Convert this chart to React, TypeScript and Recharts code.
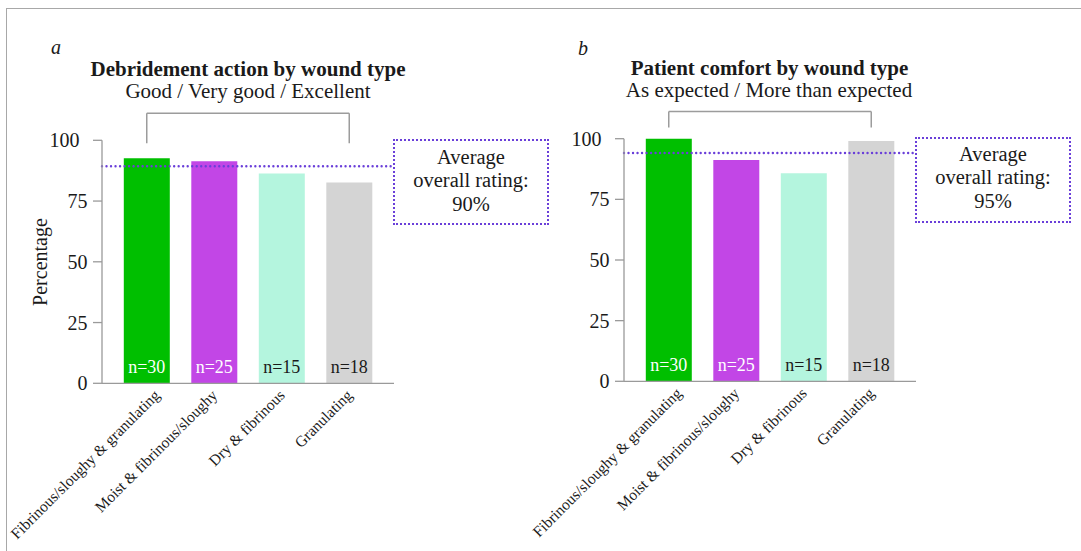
import React from "react";
import { BarChart, Bar, XAxis, YAxis, Cell, LabelList, ReferenceLine } from "recharts";

const FONT = "'Liberation Serif', 'Times New Roman', serif";
const INK = "#1a1a1a";
const AXIS = "#9a9a9a";
const DOT = "#6a3fd9";

const categories = [
  "Fibrinous/sloughy & granulating",
  "Moist & fibrinous/sloughy",
  "Dry & fibrinous",
  "Granulating",
];
const sampleSizes = [30, 25, 15, 18];
const debridementValues = [92.6, 91.4, 86.3, 82.6];
const comfortValues = [100, 91.2, 85.8, 99.1];
const debridementAverage = 89.3;
const comfortAverage = 94.1;
const barColors = ["#00bf00", "#c246e6", "#b4f5de", "#d4d4d4"];
const yTicks = [0, 25, 50, 75, 100];

const YTick = ({ x, y, payload }: any) => (
  <text
    x={x - (payload.value === 100 ? 11.5 : 3.5)}
    y={y}
    dy={7}
    textAnchor="end"
    fontSize={20}
    fontFamily={FONT}
    fill={INK}
  >
    {payload.value}
  </text>
);

const XTick = ({ x, y, payload, index }: any) => {
  const tx = x + (index === 0 ? 14 : 4);
  const ty = y + 13;
  return (
    <text
      x={tx}
      y={ty}
      textAnchor="end"
      fontSize={15.5}
      fontFamily={FONT}
      fill={INK}
      transform={`rotate(-45 ${tx} ${ty})`}
    >
      {payload.value}
    </text>
  );
};

const NLabel = ({ x, y, width, height, value, index }: any) => (
  <text
    x={x + width / 2}
    y={y + height - 10}
    textAnchor="middle"
    fontSize={18}
    fontFamily={FONT}
    fill={index < 2 ? "#ffffff" : INK}
  >
    {`n=${value}`}
  </text>
);

type PanelProps = {
  values: number[];
  average: number;
  bracketTop: number;
  bracketBottom: number;
  left: number;
  width: number;
  margin: { top: number; right: number; bottom: number; left: number };
};

function Panel({ values, average, bracketTop, bracketBottom, left, width, margin }: PanelProps) {
  const data = categories.map((name, i) => ({ name, value: values[i], n: sampleSizes[i] }));
  const first = categories[0];
  const last = categories[categories.length - 1];
  const bracket = { stroke: "#9c9c9c", strokeWidth: 1.5, ifOverflow: "visible" as const };
  return (
    <div style={{ position: "absolute", left, top: 0 }}>
      <BarChart width={width} height={551} data={data} margin={margin} barCategoryGap="16%">
        <XAxis
          dataKey="name"
          interval={0}
          height={160}
          padding={{ left: 11, right: 11 }}
          tick={<XTick />}
          tickLine={false}
          tickSize={0}
          tickMargin={0}
          axisLine={{ stroke: AXIS, strokeWidth: 1.3 }}
        />
        <YAxis
          width={60}
          domain={[0, 100]}
          ticks={yTicks}
          tick={<YTick />}
          tickSize={9}
          tickLine={{ stroke: AXIS, strokeWidth: 1.3 }}
          axisLine={{ stroke: AXIS, strokeWidth: 1.3 }}
        />
        <Bar dataKey="value" isAnimationActive={false}>
          {data.map((d, i) => (
            <Cell key={d.name} fill={barColors[i]} />
          ))}
          <LabelList dataKey="n" content={<NLabel />} />
        </Bar>
        <ReferenceLine
          y={average}
          stroke={DOT}
          strokeWidth={2.4}
          strokeDasharray="0.01 4.5"
          strokeLinecap="round"
        />
        <ReferenceLine {...bracket} segment={[{ x: first, y: bracketBottom }, { x: first, y: bracketTop }]} />
        <ReferenceLine {...bracket} segment={[{ x: first, y: bracketTop }, { x: last, y: bracketTop }]} />
        <ReferenceLine {...bracket} segment={[{ x: last, y: bracketTop }, { x: last, y: bracketBottom }]} />
      </BarChart>
    </div>
  );
}

const boxStyle: React.CSSProperties = {
  position: "absolute",
  boxSizing: "border-box",
  width: 156,
  height: 86,
  border: `2.5px dotted ${DOT}`,
};

export default function App() {
  return (
    <div
      style={{
        position: "absolute",
        left: 0,
        top: 0,
        width: 1081,
        height: 551,
        overflow: "hidden",
        background: "#fff",
        fontFamily: FONT,
      }}
    >
      <div
        style={{
          position: "absolute",
          left: 6,
          top: 8,
          width: 2000,
          height: 2000,
          border: "1px solid #a8a8a8",
        }}
      />
      <Panel
        values={debridementValues}
        average={debridementAverage}
        bracketTop={111.1}
        bracketBottom={98.8}
        left={0}
        width={540}
        margin={{ top: 140.3, right: 146, bottom: 7.7, left: 42 }}
      />
      <Panel
        values={comfortValues}
        average={comfortAverage}
        bracketTop={111.2}
        bracketBottom={104.6}
        left={460}
        width={621}
        margin={{ top: 138.7, right: 165, bottom: 9.7, left: 104 }}
      />
      <div style={{ ...boxStyle, left: 393, top: 139 }} />
      <div style={{ ...boxStyle, left: 915, top: 136.5 }} />
      <svg
        width={1081}
        height={551}
        style={{ position: "absolute", left: 0, top: 0, pointerEvents: "none" }}
        fontFamily={FONT}
        fill={INK}
      >
        <text x={51} y={54} fontSize={20} fontStyle="italic">a</text>
        <text x={578} y={55} fontSize={20} fontStyle="italic">b</text>
        <text x={248} y={76} fontSize={21} fontWeight="bold" textAnchor="middle">
          Debridement action by wound type
        </text>
        <text x={248} y={98} fontSize={21} textAnchor="middle">
          Good / Very good / Excellent
        </text>
        <text x={769.5} y={74.5} fontSize={21} fontWeight="bold" textAnchor="middle">
          Patient comfort by wound type
        </text>
        <text x={769} y={96.6} fontSize={21} textAnchor="middle">
          As expected / More than expected
        </text>
        <text x={47} y={262} fontSize={20} textAnchor="middle" transform="rotate(-90 47 262)">
          Percentage
        </text>
        <g fontSize={20.5} textAnchor="middle">
          <text x={471} y={163.5}>Average</text>
          <text x={471} y={187}>overall rating:</text>
          <text x={471} y={210.5}>90%</text>
          <text x={993} y={160.7}>Average</text>
          <text x={993} y={184.3}>overall rating:</text>
          <text x={993} y={208.3}>95%</text>
        </g>
      </svg>
    </div>
  );
}
